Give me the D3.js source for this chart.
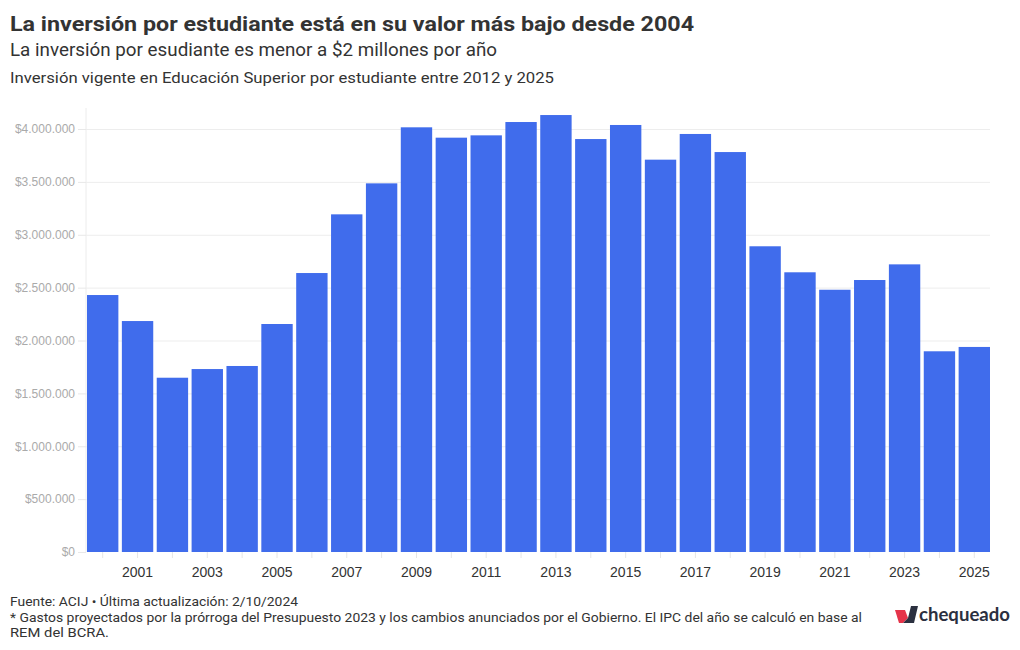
<!DOCTYPE html>
<html>
<head>
<meta charset="utf-8">
<script src="https://cdn.jsdelivr.net/npm/d3@7"></script>
<style>
  html, body { margin: 0; padding: 0; background: #fff; }
  svg { display: block; font-family: Roboto, "Liberation Sans", sans-serif; }
</style>
</head>
<body>
<svg id="chart" width="1020" height="650"></svg>
<script>
// ---- Data ----
const years = [2000, 2001, 2002, 2003, 2004, 2005, 2006, 2007, 2008, 2009, 2010, 2011, 2012,
               2013, 2014, 2015, 2016, 2017, 2018, 2019, 2020, 2021, 2022, 2023, 2024, 2025];
const inversion = [2430000, 2184000, 1648000, 1730000, 1759000, 2156000, 2638000, 3193000, 3486000,
                   4016000, 3918000, 3940000, 4066000, 4132000, 3905000, 4038000, 3710000, 3953000,
                   3782000, 2891000, 2645000, 2480000, 2572000, 2720000, 1898000, 1939000];
const yTicks = [0, 500000, 1000000, 1500000, 2000000, 2500000, 3000000, 3500000, 4000000];
const xTickLabels = [2001, 2003, 2005, 2007, 2009, 2011, 2013, 2015, 2017, 2019, 2021, 2023, 2025];

const title = "La inversión por estudiante está en su valor más bajo desde 2004";
const subtitle = "La inversión por esudiante es menor a $2 millones por año";
const description = "Inversión vigente en Educación Superior por estudiante entre 2012 y 2025";
const notes = [
  "Fuente: ACIJ • Última actualización: 2/10/2024",
  "* Gastos proyectados por la prórroga del Presupuesto 2023 y los cambios anunciados por el Gobierno. El IPC del año se calculó en base al",
  "REM del BCRA."
];

// ---- Chart ----
const svg = d3.select("#chart");
const mLeft = 87, mRight = 990, mTop = 108, mBottom = 552;

const x = d3.scaleBand().domain(years).range([mLeft, mRight]).paddingInner(0.1).paddingOuter(0);
const y = d3.scaleLinear().domain([0, 4000000]).range([mBottom, 129]);

function fmt(v) {
  return "$" + d3.format(",")(v).replace(/,/g, ".");
}

function fitText(sel, target) {
  const w = sel.node().getComputedTextLength();
  if (Math.abs(w - target) > 2) {
    sel.attr("textLength", target).attr("lengthAdjust", "spacingAndGlyphs");
  }
}

// vertical left line
svg.append("line").attr("x1", mLeft - 1).attr("x2", mLeft - 1)
  .attr("y1", mTop).attr("y2", mBottom).attr("stroke", "#ececec").attr("stroke-width", 1);

// Y grid + axis
const yAxis = d3.axisLeft(y).tickValues(yTicks).tickFormat(fmt).tickSize(8).tickPadding(3);
const gy = svg.append("g").attr("transform", `translate(${mLeft - 1},0)`).call(yAxis);
gy.select(".domain").remove();
gy.selectAll(".tick line").attr("stroke", "#e8e8e8");
gy.selectAll(".tick text").attr("fill", "#aaaaaa").attr("font-size", 12)
  .attr("font-family", "Arial, 'Liberation Sans', sans-serif");

const grid = d3.axisLeft(y).tickValues(yTicks.filter(d => d > 0)).tickSize(-(mRight - mLeft + 1)).tickFormat("");
const gg = svg.append("g").attr("transform", `translate(${mLeft - 1},0)`).call(grid);
gg.select(".domain").remove();
gg.selectAll(".tick line").attr("stroke", "#ededed");

// X axis
const xAxis = d3.axisBottom(x).tickSize(6).tickPadding(9)
  .tickFormat(d => xTickLabels.includes(d) ? d : "");
const gx = svg.append("g").attr("transform", `translate(0,${mBottom})`).call(xAxis);
gx.select(".domain").remove();
gx.selectAll(".tick line").attr("stroke", "#e6e6e6");
gx.selectAll(".tick text").attr("fill", "#333").attr("font-size", 14);

// Bars
svg.append("g").selectAll("rect").data(years).join("rect")
  .attr("x", d => x(d))
  .attr("width", x.bandwidth())
  .attr("y", (d, i) => y(inversion[i]))
  .attr("height", (d, i) => y(0) - y(inversion[i]))
  .attr("fill", "#406cec");

// Titles
const t1 = svg.append("text").attr("x", 10).attr("y", 31).attr("font-size", 21)
  .attr("font-weight", 700).attr("fill", "#333").text(title);
fitText(t1, 684);
const t2 = svg.append("text").attr("x", 10).attr("y", 56).attr("font-size", 18)
  .attr("fill", "#333").text(subtitle);
fitText(t2, 487);
const t3 = svg.append("text").attr("x", 10).attr("y", 83).attr("font-size", 15)
  .attr("fill", "#333").text(description);
fitText(t3, 544);

// Footer
const noteY = [606, 622, 637];
const noteW = [288, 852, 99];
notes.forEach((n, i) => {
  const t = svg.append("text").attr("x", 10).attr("y", noteY[i]).attr("font-size", 13)
    .attr("fill", "#333").text(n);
  fitText(t, noteW[i]);
});

// Logo
const logo = svg.append("g").attr("transform", "translate(893,604)");
logo.append("path").attr("d", "M2,6 L12,6 L15,14 L10,19 L6,19 Z").attr("fill", "#e5344a");
logo.append("path").attr("d", "M10,19 L15,14 L18,2 L25,2 L21,19 Z").attr("fill", "#2b3040");
const lt = svg.append("text").attr("x", 919).attr("y", 621).attr("font-size", 18)
  .attr("font-weight", 700).attr("fill", "#2b3040").attr("font-family", "Lato, 'Open Sans', sans-serif")
  .text("chequeado");
fitText(lt, 91);
</script>
</body>
</html>
